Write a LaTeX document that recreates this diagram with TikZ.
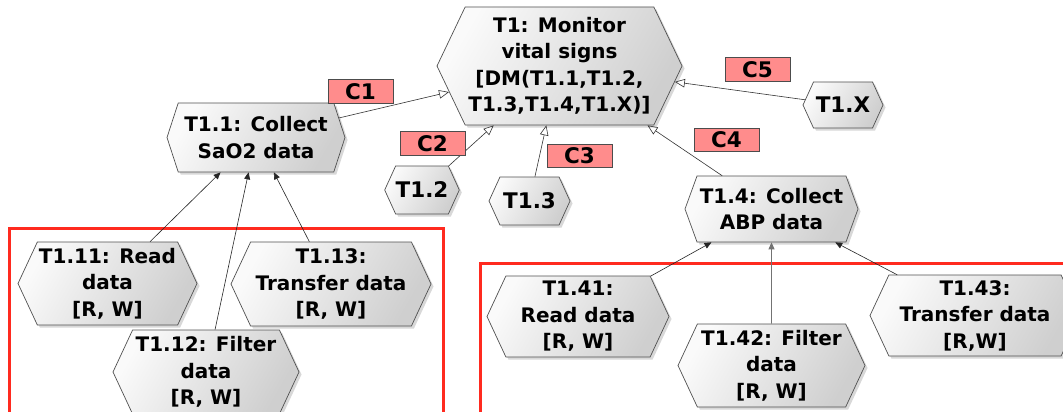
\documentclass[tikz,border=0pt]{standalone}
\usepackage{fontspec}
\setmainfont{DejaVu Sans}
\usetikzlibrary{shapes.symbols,shadows,arrows.meta}

\definecolor{edgegray}{HTML}{333333}
\definecolor{hexborder}{HTML}{505050}
\definecolor{tagfill}{HTML}{FF8C8C}
\definecolor{groupred}{HTML}{FF2A1F}

\tikzset{
  hexbox/.style={shape=signal, signal to=west and east, signal from=nowhere,
    signal pointer angle=#1, draw=hexborder, line width=0.7pt,
    left color=white!98!black, right color=black!19, shading angle=60,
    drop shadow={shadow xshift=2.5pt, shadow yshift=-2.5pt, fill=black!60, opacity=0.25},
    inner sep=0pt, align=center, font=\bfseries\fontsize{20}{26.5}\selectfont},
  hexbox/.default=130,
  short/.style={font=\bfseries\fontsize{21.5}{26.5}\selectfont},
  tag/.style={draw=black!70, fill=tagfill, line width=0.6pt,
    minimum width=65pt, minimum height=23.5pt, inner sep=0pt,
    font=\bfseries\fontsize{21.5}{24}\selectfont},
  grp/.style={draw=groupred, line width=3pt},
  decomp/.style={draw=edgegray, line width=0.6pt, -{Triangle[open, length=10pt, width=8.5pt]}},
  part/.style={draw=black!85, line width=0.6pt, -{Triangle[length=7pt, width=6pt]}},
}

\begin{document}
\begin{tikzpicture}[x=1pt, y=-1pt]
  \useasboundingbox (0,0) rectangle (1063,412);
  \fill[white] (0,0) rectangle (1063,412);
  \clip (0,0) rectangle (1063,412);

  % groups of subtasks
  \draw[grp] (9,228) rectangle (443,440);
  \draw[grp] (480,263) rectangle (1090,440);

  % root task
  \node[hexbox=129, minimum width=245pt, minimum height=118pt] (t1) at (559.5,66)
    {T1: Monitor\\vital signs\\{[DM(T1.1,T1.2,}\\T1.3,T1.4,T1.X)]};

  % first level
  \node[hexbox=144, minimum width=178pt, minimum height=69pt] (t11) at (256,137.5)
    {T1.1: Collect\\SaO2 data};
  \node[hexbox=131, short, minimum width=70pt, minimum height=48pt] (t12) at (422,190) {T1.2};
  \node[hexbox=131, short, minimum width=81pt, minimum height=48pt] (t13) at (529.5,201) {T1.3};
  \node[hexbox=140, minimum width=173pt, minimum height=66pt] (t14) at (771.5,209)
    {T1.4: Collect\\ABP data};
  \node[hexbox=131, short, minimum width=80pt, minimum height=46pt] (t1x) at (843,105) {T1.X};

  % subtasks of T1.1
  \node[hexbox, minimum width=179pt, minimum height=83pt] (t111) at (107.5,283.5)
    {T1.11: Read\\data\\{[R, W]}};
  \node[hexbox, minimum width=186pt, minimum height=84pt] (t112) at (206,372)
    {T1.12: Filter\\data\\{[R, W]}};
  \node[hexbox, minimum width=200pt, minimum height=84pt] (t113) at (331,284)
    {T1.13:\\Transfer data\\{[R, W]}};

  % subtasks of T1.4
  \node[hexbox, minimum width=182pt, minimum height=81pt] (t141) at (578,316.5)
    {T1.41:\\Read data\\{[R, W]}};
  \node[hexbox, minimum width=187pt, minimum height=83pt] (t142) at (771.5,365.5)
    {T1.42: Filter\\data\\{[R, W]}};
  \node[hexbox, minimum width=210pt, minimum height=81pt] (t143) at (975,315.5)
    {T1.43:\\Transfer data\\{[R,W]}};

  % decomposition links
  \draw[decomp] (t11) -- (t1);
  \draw[decomp] (t12) -- (t1);
  \draw[decomp] (t13) -- (t1);
  \draw[decomp] (t14) -- (t1);
  \draw[decomp] (t1x) -- (t1);

  \draw[part] (t111) -- (t11);
  \draw[part] (t112) -- (t11);
  \draw[part] (t113) -- (t11);
  \draw[part] (t141) -- (t14);
  \draw[part, draw=black!55, line width=0.9pt] (t142) -- (t14);
  \draw[part] (t143) -- (t14);

  % link labels
  \node[tag] (c1) at (360.5,91.5) {C1};
  \node[tag] (c2) at (432.5,143.5) {C2};
  \node[tag] (c3) at (579.5,156) {C3};
  \node[tag] (c4) at (726.5,140) {C4};
  \node[tag] (c5) at (757.5,69.5) {C5};
\end{tikzpicture}
\end{document}
